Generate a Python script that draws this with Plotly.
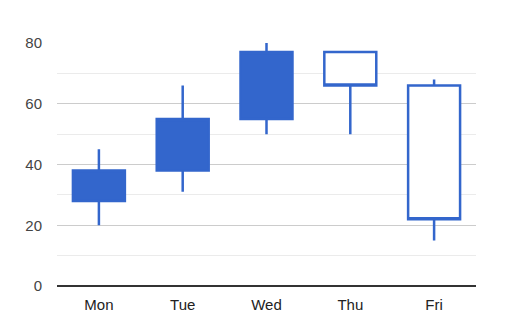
import plotly.graph_objects as go

# Weekly candlestick data
days = ["Mon", "Tue", "Wed", "Thu", "Fri"]
low_vals = [20, 31, 50, 50, 15]
open_vals = [28, 38, 55, 77, 66]
close_vals = [38, 55, 77, 66, 22]
high_vals = [45, 66, 80, 77, 68]

y_ticks = [0, 20, 40, 60, 80]

BLUE = "#3366cc"

fig = go.Figure(
    go.Candlestick(
        x=days,
        open=open_vals,
        high=high_vals,
        low=low_vals,
        close=close_vals,
        increasing=dict(line=dict(color=BLUE, width=2.5), fillcolor=BLUE),
        decreasing=dict(line=dict(color=BLUE, width=2.5), fillcolor="#ffffff"),
        whiskerwidth=0,
        hoverinfo="skip",
    )
)

fig.update_layout(
    width=522,
    height=334,
    margin=dict(l=57, r=46, t=43, b=48),
    paper_bgcolor="#ffffff",
    plot_bgcolor="#ffffff",
    showlegend=False,
    boxgap=0.38,
    boxgroupgap=0,
    font=dict(family="Liberation Sans, Arial, sans-serif", size=15, color="#444444"),
    xaxis=dict(
        type="category",
        rangeslider=dict(visible=False),
        showgrid=False,
        showline=False,
        ticks="",
        ticklabelstandoff=8,
        tickfont=dict(color="#222222", size=15),
        fixedrange=True,
    ),
    yaxis=dict(
        range=[0, 80],
        tickvals=y_ticks,
        ticktext=[str(v) for v in y_ticks],
        showgrid=True,
        gridcolor="#cccccc",
        gridwidth=1,
        minor=dict(dtick=10, tick0=0, showgrid=True, gridcolor="#ebebeb", gridwidth=1),
        zeroline=True,
        zerolinecolor="#333333",
        zerolinewidth=1.5,
        showline=False,
        ticks="",
        ticklabelstandoff=14,
        tickfont=dict(color="#444444", size=15),
        fixedrange=True,
    ),
)

fig.write_html("out.html", config={"displayModeBar": False})
